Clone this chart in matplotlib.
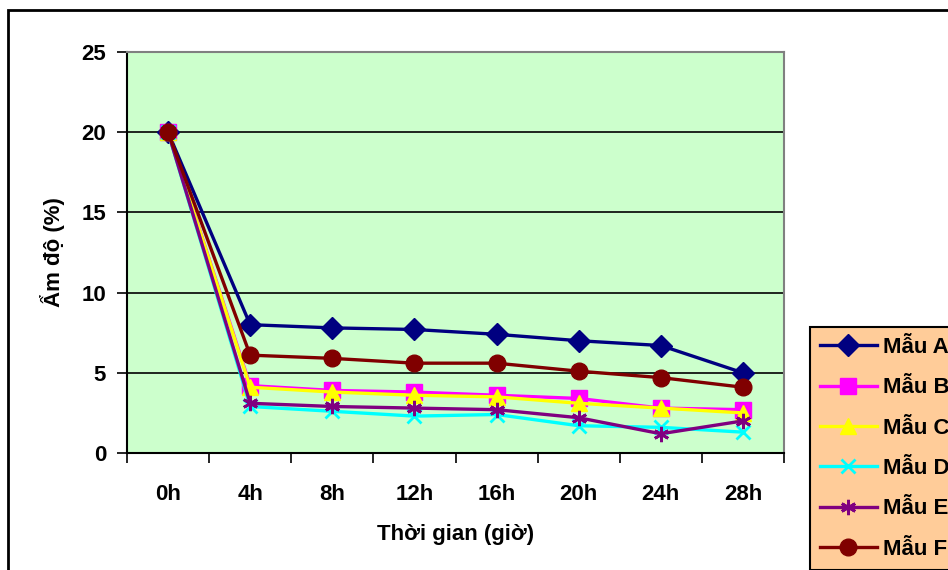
import matplotlib.pyplot as plt
from matplotlib.patches import Rectangle
from matplotlib.lines import Line2D

plt.rcParams['font.family'] = ['Liberation Sans', 'DejaVu Sans']
plt.rcParams['font.weight'] = 'bold'

hours = ["0h", "4h", "8h", "12h", "16h", "20h", "24h", "28h"]
mau_a = [20.0, 8.0, 7.8, 7.7, 7.4, 7.0, 6.7, 5.0]
mau_b = [20.0, 4.2, 3.9, 3.8, 3.6, 3.4, 2.8, 2.7]
mau_c = [20.0, 4.1, 3.8, 3.6, 3.5, 3.1, 2.8, 2.5]
mau_d = [20.0, 2.9, 2.6, 2.3, 2.4, 1.7, 1.6, 1.3]
mau_e = [20.0, 3.1, 2.9, 2.8, 2.7, 2.2, 1.2, 2.0]
mau_f = [20.0, 6.1, 5.9, 5.6, 5.6, 5.1, 4.7, 4.1]

series = [
    ("Mẫu A", mau_a, "#000080", "D", 11),
    ("Mẫu B", mau_b, "#FF00FF", "s", 11),
    ("Mẫu C", mau_c, "#FFFF00", "^", 12),
    ("Mẫu D", mau_d, "#00FFFF", "x", 10),
    ("Mẫu E", mau_e, "#800080", (6, 2, 0), 11),
    ("Mẫu F", mau_f, "#800000", "o", 12),
]

W, H = 948, 570
FS = 16
fig = plt.figure(figsize=(W / 100, H / 100), dpi=100)

# outer chart frame (runs off the right and bottom edges)
fig.patches.append(Rectangle((8 / W, -0.1), 1.2, 1 - 9.5 / H + 0.1,
                             transform=fig.transFigure, fill=False,
                             edgecolor="black", linewidth=2))

ax = fig.add_axes([127 / W, 1 - 453 / H, (784 - 127) / W, (453 - 52) / H])
ax.set_facecolor("#CCFFCC")

x = list(range(len(hours)))
for name, vals, color, marker, ms in series:
    mew = 2 if marker in ("x", (6, 2, 0)) else 1
    ax.plot(x, vals, color=color, linewidth=2.4, marker=marker, markersize=ms,
            markeredgewidth=mew, label=name, zorder=3)

ax.set_ylim(0, 25)
ax.set_xlim(-0.5, len(hours) - 0.5)
ax.set_yticks([0, 5, 10, 15, 20, 25])
ax.yaxis.grid(True, color="black", linewidth=1.2)
ax.set_axisbelow(True)

# category boundaries get the tick marks, labels sit between them
ax.set_xticks([i - 0.5 for i in range(len(hours) + 1)])
ax.set_xticklabels([])
ax.set_xticks(x, minor=True)
ax.set_xticklabels(hours, minor=True)
ax.tick_params(axis="x", which="major", length=7, width=1.2, direction="out")
ax.tick_params(axis="x", which="minor", length=0, pad=22, labelsize=FS)
ax.tick_params(axis="y", length=7, width=1.2, direction="out", labelsize=FS, pad=8)

for side in ("left", "bottom"):
    ax.spines[side].set_color("black")
    ax.spines[side].set_linewidth(1.5)
for side in ("top", "right"):
    ax.spines[side].set_color("#808080")
    ax.spines[side].set_linewidth(1.5)

ax.set_ylabel("Ẩm độ (%)", fontsize=FS, fontweight="bold", labelpad=12)
ax.set_xlabel("Thời gian (giờ)", fontsize=FS, fontweight="bold", labelpad=14)

handles = [Line2D([], [], color=c, linewidth=2.4, marker=m, markersize=ms,
                  markeredgewidth=2 if m in ("x", (6, 2, 0)) else 1)
           for _, _, c, m, ms in series]
leg = fig.legend(handles, [s[0] for s in series], loc="upper left",
                 bbox_to_anchor=(810 / W, 1 - 327 / H), fontsize=FS,
                 frameon=True, fancybox=False, facecolor="#FFCC99",
                 edgecolor="black", framealpha=1, handlelength=2.55,
                 labelspacing=0.87, borderpad=0.45, handletextpad=0.3,
                 borderaxespad=0)
leg.get_frame().set_linewidth(1.5)

fig.savefig("out.png", dpi=100)
